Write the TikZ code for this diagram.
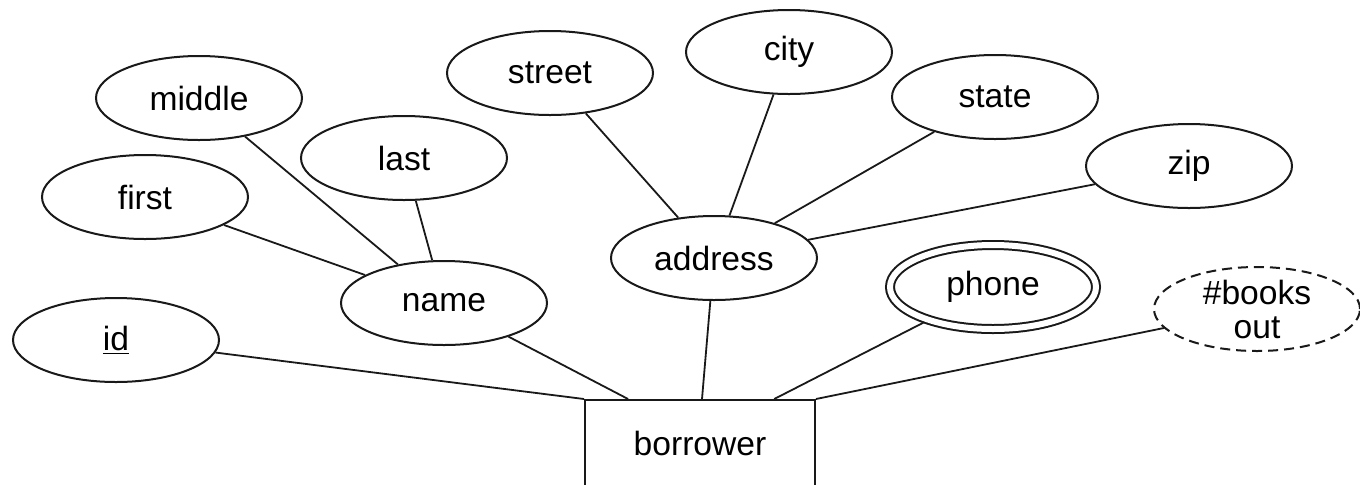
\documentclass[tikz,border=0pt]{standalone}
\usepackage{fontspec}
\setmainfont{Liberation Sans}
\usetikzlibrary{shapes.geometric, calc}
\definecolor{erdark}{RGB}{25,25,25}
\newcommand{\erfont}{\fontsize{16.8}{17}\selectfont}
\tikzset{
  attr/.style={ellipse, draw=erdark, fill=white,
    minimum width=103pt, minimum height=42pt, inner sep=0pt,
    line width=1pt, font=\erfont, align=center},
  multiattr/.style={attr, double, double distance=3pt},
  derivattr/.style={attr, dash pattern=on 5pt off 3pt},
  entity/.style={rectangle, draw=erdark, fill=white,
    minimum width=115pt, minimum height=43pt,
    line width=1pt, font=\erfont},
  link/.style={line width=0.9pt, color=erdark}
}

\begin{document}
\begin{tikzpicture}[x=0.5pt, y=-0.5pt]
  \useasboundingbox (0,0) rectangle (1360,484);

  % Entity
  \node[entity] (borrower) at (700,443) {borrower};

  % Attributes of borrower
  \node[attr] (id) at (116,340) {\underline{id}};
  \node[attr] (name) at (444,303) {name};
  \node[attr] (address) at (714,258) {address};
  \node[multiattr] (phone) at (993,287) {phone};
  \node[derivattr] (books) at (1257,309) {\#books\\out};

  % Parts of name
  \node[attr] (first) at (145,197) {first};
  \node[attr] (middle) at (199,98) {middle};
  \node[attr] (last) at (404,158) {last};

  % Parts of address
  \node[attr] (street) at (550,73) {street};
  \node[attr] (city) at (789,52) {city};
  \node[attr] (state) at (995,97) {state};
  \node[attr] (zip) at (1189,166) {zip};

  % Points on top of the entity box
  \coordinate (bName) at ($(borrower.north west)!0.19!(borrower.north east)$);
  \coordinate (bPhone) at ($(borrower.north west)!0.82!(borrower.north east)$);

  % Links to entity
  \draw[link] (id) -- (borrower.north west);
  \draw[link] (name) -- (bName);
  \draw[link] (address) -- ($(borrower.north)+(2,0)$);
  \draw[link, shorten <=2pt] (phone) -- (bPhone);
  \draw[link] (books) -- (borrower.north east);

  % Composite attributes
  \draw[link] (first) -- (name);
  \draw[link] (middle) -- (name);
  \draw[link] (last) -- (name);
  \draw[link] (street) -- (address);
  \draw[link] (city) -- (address);
  \draw[link] (state) -- (address);
  \draw[link] (zip) -- (address);
\end{tikzpicture}
\end{document}
